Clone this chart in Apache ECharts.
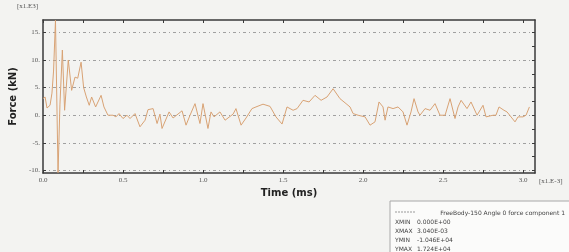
<!DOCTYPE html>
<html>
<head>
<meta charset="utf-8">
<script src="https://cdn.jsdelivr.net/npm/echarts@6/dist/echarts.min.js"></script>
<style>
  html, body { margin: 0; padding: 0; background: #f3f3f1; }
  #chart { width: 569px; height: 252px; }
</style>
</head>
<body>
<div id="chart"></div>
<script>
// time in ms, force in kN (x1.E3)
var times = [0.000, 0.013, 0.025, 0.044, 0.056, 0.066, 0.078, 0.094, 0.106, 0.121, 0.135, 0.158, 0.179, 0.200, 0.217, 0.238, 0.254, 0.271, 0.289, 0.304, 0.329, 0.363, 0.381,
  0.406, 0.438, 0.456, 0.475, 0.500, 0.525, 0.544, 0.575, 0.606, 0.638, 0.656, 0.688, 0.713, 0.731, 0.744, 0.788, 0.813, 0.869, 0.894, 0.919, 0.950, 0.981, 1.000, 1.031,
  1.050, 1.069, 1.106, 1.138, 1.188, 1.206, 1.238, 1.269, 1.306, 1.331, 1.375, 1.419, 1.456, 1.494, 1.525, 1.563, 1.588, 1.625, 1.663, 1.700, 1.738, 1.775, 1.813, 1.856,
  1.894, 1.919, 1.938, 1.969, 2.013, 2.044, 2.075, 2.100, 2.125, 2.138, 2.156, 2.188, 2.219, 2.250, 2.275, 2.300, 2.319, 2.344, 2.356, 2.388, 2.419, 2.450, 2.481, 2.513,
  2.544, 2.575, 2.594, 2.613, 2.650, 2.675, 2.713, 2.750, 2.769, 2.813, 2.831, 2.850, 2.881, 2.900, 2.950, 2.969, 3.000, 3.019, 3.040];
var forces = [3.0, 3.3, 1.3, 1.8, 4.0, 8.0, 17.2, -10.4, 2.0, 11.8, 0.9, 10.0, 4.5, 6.9, 6.7, 9.6, 5.0, 3.3, 1.8, 3.3, 1.5, 3.6, 1.5,
  0.0, 0.0, -0.3, 0.3, -0.6, 0.0, -0.6, 0.3, -2.1, -0.9, 1.0, 1.2, -1.5, 0.2, -2.4, 0.6, -0.5, 0.8, -1.8, 0.0, 2.1, -1.5, 2.1, -2.4,
  0.6, -0.3, 0.6, -0.9, 0.2, 1.2, -1.8, -0.5, 1.2, 1.5, 2.0, 1.6, -0.3, -1.6, 1.5, 0.9, 1.2, 2.7, 2.4, 3.6, 2.7, 3.3, 4.8, 3.0,
  2.1, 1.5, 0.3, 0.0, -0.3, -1.8, -1.2, 2.4, 1.5, -0.9, 1.5, 1.2, 1.5, 0.6, -1.8, 0.6, 3.0, 0.6, 0.0, 1.2, 0.9, 2.1, 0.0, 0.0,
  3.0, -0.6, 1.5, 2.7, 1.2, 2.4, 0.0, 1.8, -0.3, 0.0, 0.0, 1.5, 0.9, 0.6, -1.2, -0.3, -0.3, 0.0, 1.5];
var yLabels = [-10, -5, 0, 5, 10, 15];
var yTicks = [-10, -7.5, -5, -2.5, 0, 2.5, 5, 7.5, 10, 12.5, 15];
var xLabels = [0, 0.5, 1.0, 1.5, 2.0, 2.5, 3.0];
var xTicks = [0, 0.25, 0.5, 0.75, 1.0, 1.25, 1.5, 1.75, 2.0, 2.25, 2.5, 2.75, 3.0];
var legendRows = [['XMIN', '0.000E+00'], ['XMAX', '3.040E-03'], ['YMIN', '-1.046E+04'], ['YMAX', '1.724E+04']];

var points = [];
for (var i = 0; i < times.length; i++) points.push([times[i], forces[i]]);

var chart = echarts.init(document.getElementById('chart'));

var frameLine = { show: true, onZero: false, lineStyle: { color: '#3a3a3a', width: 1.5 } };
var tickStyle = { color: '#3a3a3a', width: 1 };
var labelFont = { fontFamily: 'Liberation Serif', fontSize: 7, color: '#555' };

var graphics = [
  { type: 'text', left: 17, top: 3, style: { text: '[x1.E3]', font: '7px "Liberation Serif"', fill: '#555' } },
  { type: 'text', left: 539, top: 178, style: { text: '[x1.E-3]', font: '7px "Liberation Serif"', fill: '#555' } },
  { type: 'rect', shape: { x: 390, y: 201, width: 185, height: 60 }, style: { fill: '#fbfbfa', stroke: '#a8a8a8', lineWidth: 1 } },
  { type: 'line', shape: { x1: 395, y1: 212, x2: 416, y2: 212 }, style: { stroke: '#999', lineWidth: 1, lineDash: [2, 1] } },
  { type: 'text', x: 565, y: 210, style: { text: 'FreeBody-150 Angle 0 force component 1', font: '6px "DejaVu Sans"', fill: '#444', align: 'right' } }
];
legendRows.forEach(function (r, k) {
  graphics.push({ type: 'text', x: 395, y: 219 + k * 9.3, style: { text: r[0], font: '6px "DejaVu Sans"', fill: '#444' } });
  graphics.push({ type: 'text', x: 417, y: 219 + k * 9.3, style: { text: r[1], font: '6px "DejaVu Sans"', fill: '#444' } });
});

var option = {
  backgroundColor: '#f3f3f1',
  animation: false,
  grid: { left: 43, right: 34, top: 20, bottom: 79 },
  xAxis: [{
    type: 'value', min: 0, max: 3.075, position: 'bottom',
    name: 'Time (ms)', nameLocation: 'middle', nameGap: 14,
    nameTextStyle: { fontFamily: 'DejaVu Sans', fontSize: 10, fontWeight: 'bold', color: '#222' },
    axisLine: frameLine,
    axisTick: { show: true, inside: true, length: 3, customValues: xTicks, lineStyle: tickStyle },
    axisLabel: Object.assign({ margin: 4, customValues: xLabels, formatter: function (v) { return v.toFixed(1); } }, labelFont),
    splitLine: { show: false }
  }, {
    type: 'value', min: 0, max: 3.075, position: 'top',
    axisLine: frameLine,
    axisTick: { show: true, inside: true, length: 3, customValues: xTicks, lineStyle: tickStyle },
    axisLabel: { show: false },
    splitLine: { show: false }
  }],
  yAxis: [{
    type: 'value', min: -10.46, max: 17.24, position: 'left',
    name: 'Force (kN)', nameLocation: 'middle', nameGap: 21, nameRotate: 90,
    nameTextStyle: { fontFamily: 'DejaVu Sans', fontSize: 10, fontWeight: 'bold', color: '#222' },
    axisLine: frameLine,
    axisTick: { show: true, inside: true, length: 3, customValues: yLabels, lineStyle: tickStyle },
    axisLabel: Object.assign({ margin: 3, customValues: yLabels, formatter: function (v) { return v + '.'; } }, labelFont),
    splitLine: { show: true, lineStyle: { color: '#a0a0a0', width: 1, type: [3, 3, 1, 3] } }
  }, {
    type: 'value', min: -10.46, max: 17.24, position: 'right',
    axisLine: frameLine,
    axisTick: { show: true, inside: true, length: 3, customValues: yTicks, lineStyle: tickStyle },
    axisLabel: { show: false },
    splitLine: { show: false }
  }],
  series: [{
    type: 'line', xAxisIndex: 0, yAxisIndex: 0,
    data: points, showSymbol: false,
    lineStyle: { color: '#d8a274', width: 1 }
  }],
  graphic: graphics
};
chart.setOption(option);
</script>
</body>
</html>
